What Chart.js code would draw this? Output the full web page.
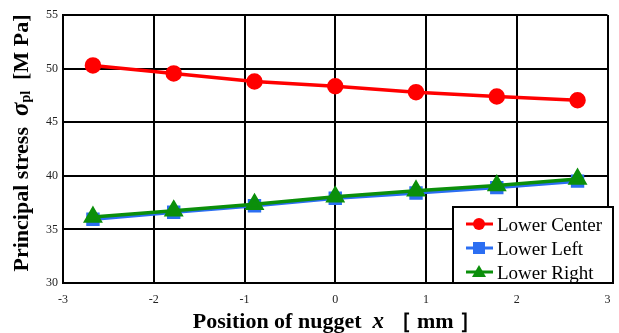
<!DOCTYPE html>
<html>
<head>
<meta charset="utf-8">
<script src="https://cdn.jsdelivr.net/npm/chart.js@4"></script>
<style>
html,body{margin:0;padding:0;background:#fff;}
#wrap{width:619px;height:333px;position:relative;}
</style>
</head>
<body>
<div id="wrap"><canvas id="c" width="619" height="333"></canvas></div>
<script>
// ---- data ----
const positions = [-2.67, -1.78, -0.89, 0, 0.89, 1.78, 2.67];
const lowerCenter = [50.3, 49.55, 48.8, 48.35, 47.8, 47.4, 47.05];
const lowerLeft   = [35.95, 36.6, 37.2, 37.9, 38.4, 38.9, 39.5];
const lowerRight  = [36.15, 36.75, 37.35, 38.05, 38.6, 39.1, 39.7];
const seriesNames = ['Lower Center', 'Lower Left', 'Lower Right'];
const xTicks = [-3, -2, -1, 0, 1, 2, 3];
const yTicks = [30, 35, 40, 45, 50, 55];

const RED = '#ff0000', BLUE = '#2b6ef2', GREEN = '#0b8f0b';
const SERIF = '"Liberation Serif", "Times New Roman", serif';

function pts(ys){ return positions.map((x,i)=>({x:x, y:ys[i]})); }

const titlePlugin = {
  id: 'titles',
  afterDraw(chart){
    const ctx = chart.ctx;
    function drawSegs(segs){
      let total = 0;
      segs.forEach(s=>{ ctx.font = s.font; s.w = ctx.measureText(s.t).width; total += s.w; });
      let x = -total/2;
      segs.forEach(s=>{ ctx.font = s.font; ctx.fillText(s.t, x, s.dy||0); x += s.w; });
    }
    ctx.save();
    ctx.fillStyle = '#000';
    ctx.textBaseline = 'middle';
    ctx.textAlign = 'left';
    // y title
    ctx.save();
    ctx.translate(22, 143);
    ctx.rotate(-Math.PI/2);
    drawSegs([
      {t:'Principal stress  ', font:'bold 22px '+SERIF},
      {t:'σ', font:'italic bold 25px '+SERIF},
      {t:'pl', font:'bold 14px '+SERIF, dy:4},
      {t:'  [M Pa]', font:'bold 22px '+SERIF}
    ]);
    ctx.restore();
    // x title
    ctx.save();
    ctx.translate(337, 322);
    drawSegs([
      {t:'Position of nugget  ', font:'bold 22px '+SERIF},
      {t:'x', font:'italic bold 23px '+SERIF},
      {t:' ［ mm ］', font:'bold 22px '+SERIF}
    ]);
    ctx.restore();

    // legend
    const bx = 453, by = 207, bw = 160, bh = 76;
    ctx.fillStyle = '#fff';
    ctx.fillRect(bx, by, bw, bh);
    ctx.strokeStyle = '#000';
    ctx.lineWidth = 2;
    ctx.strokeRect(bx, by, bw, bh);
    const ds = chart.data.datasets;
    [0,1,2].forEach((i,row)=>{
      const d = ds[i];
      const cy = by + 17 + row*24;
      ctx.strokeStyle = d.borderColor;
      ctx.lineWidth = 3;
      ctx.beginPath(); ctx.moveTo(466, cy); ctx.lineTo(493, cy); ctx.stroke();
      ctx.fillStyle = d.borderColor;
      const mx = 479;
      if (d.pointStyle === 'circle') {
        ctx.beginPath(); ctx.arc(mx, cy, 6, 0, Math.PI*2); ctx.fill();
      } else if (d.pointStyle === 'rect') {
        ctx.fillRect(mx-6, cy-6, 12, 12);
      } else {
        ctx.beginPath(); ctx.moveTo(mx, cy-7); ctx.lineTo(mx+7, cy+5); ctx.lineTo(mx-7, cy+5); ctx.closePath(); ctx.fill();
      }
      ctx.fillStyle = '#000';
      ctx.font = '19px '+SERIF;
      ctx.textBaseline = 'middle';
      ctx.fillText(d.label, 497, cy+2);
    });
    ctx.restore();
  }
};

new Chart(document.getElementById('c'), {
  type: 'line',
  data: {
    datasets: [
      {label: seriesNames[0], data: pts(lowerCenter), borderColor: RED, backgroundColor: RED,
       borderWidth: 3.5, pointStyle: 'circle', pointRadius: 6.5, order: 2},
      {label: seriesNames[1], data: pts(lowerLeft), borderColor: BLUE, backgroundColor: BLUE,
       borderWidth: 3.5, pointStyle: 'rect', pointRadius: 7, order: 1},
      {label: seriesNames[2], data: pts(lowerRight), borderColor: GREEN, backgroundColor: GREEN,
       borderWidth: 3.5, pointStyle: 'triangle', pointRadius: 8, order: 0}
    ]
  },
  options: {
    responsive: false,
    animation: false,
    devicePixelRatio: 1,
    layout: {padding: {top: 15, right: 8, left: 0, bottom: 0}},
    plugins: {legend: {display: false}, tooltip: {enabled: false}},
    elements: {line: {tension: 0}},
    scales: {
      x: {
        type: 'linear', min: -3, max: 3,
        afterBuildTicks: s => { s.ticks = xTicks.map(v=>({value:v})); },
        afterFit: s => { s.height = 50; },
        grid: {color: '#000', lineWidth: 2, drawTicks: true, tickLength: 10, tickColor: 'rgba(0,0,0,0)'},
        border: {display: true, color: '#000', width: 2},
        ticks: {padding: 0, color: '#222', font: {family: SERIF, size: 12}}
      },
      y: {
        type: 'linear', min: 30, max: 55,
        afterBuildTicks: s => { s.ticks = yTicks.map(v=>({value:v})); },
        afterFit: s => { s.width = 63; },
        grid: {color: '#000', lineWidth: 2, drawTicks: false},
        border: {display: true, color: '#000', width: 2},
        ticks: {padding: 5, color: '#222', font: {family: SERIF, size: 12}}
      }
    }
  },
  plugins: [titlePlugin]
});
</script>
</body>
</html>
